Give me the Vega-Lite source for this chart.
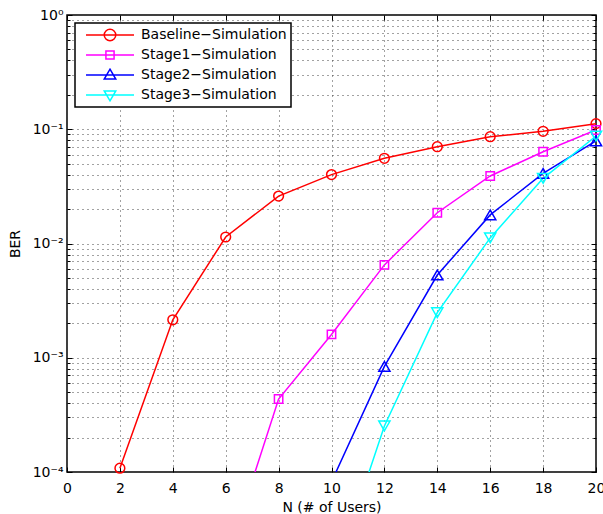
{
  "$schema": "https://vega.github.io/schema/vega-lite/v6.json",
  "width": 529,
  "height": 457,
  "autosize": {"type": "none"},
  "padding": {"left": 67, "top": 15, "right": 7, "bottom": 42},
  "background": "white",
  "config": {
    "view": {"stroke": "#000", "strokeWidth": 1.5},
    "font": "DejaVu Sans",
    "axis": {
      "labelFont": "DejaVu Sans", "labelFontSize": 14, "labelColor": "#000",
      "titleFont": "DejaVu Sans", "titleFontSize": 14, "titleFontWeight": "normal", "titleColor": "#000",
      "domain": false, "tickColor": "#000", "tickWidth": 1,
      "gridColor": "#444", "gridDash": [1, 4], "gridWidth": 1, "gridOpacity": 1
    },
    "point": {"filled": false, "strokeWidth": 1.5, "opacity": 1}
  },
  "data": {
    "values": [
      {"n": 2, "ber": 0.000108, "series": "Baseline−Simulation"},
      {"n": 4, "ber": 0.00215, "series": "Baseline−Simulation"},
      {"n": 6, "ber": 0.0114, "series": "Baseline−Simulation"},
      {"n": 8, "ber": 0.026, "series": "Baseline−Simulation"},
      {"n": 10, "ber": 0.0401, "series": "Baseline−Simulation"},
      {"n": 12, "ber": 0.0557, "series": "Baseline−Simulation"},
      {"n": 14, "ber": 0.0703, "series": "Baseline−Simulation"},
      {"n": 16, "ber": 0.086, "series": "Baseline−Simulation"},
      {"n": 18, "ber": 0.096, "series": "Baseline−Simulation"},
      {"n": 20, "ber": 0.112, "series": "Baseline−Simulation"},
      {"n": 6, "ber": 0.000016, "series": "Stage1−Simulation"},
      {"n": 8, "ber": 0.000435, "series": "Stage1−Simulation"},
      {"n": 10, "ber": 0.0016, "series": "Stage1−Simulation"},
      {"n": 12, "ber": 0.0065, "series": "Stage1−Simulation"},
      {"n": 14, "ber": 0.0186, "series": "Stage1−Simulation"},
      {"n": 16, "ber": 0.039, "series": "Stage1−Simulation"},
      {"n": 18, "ber": 0.0636, "series": "Stage1−Simulation"},
      {"n": 20, "ber": 0.0985, "series": "Stage1−Simulation"},
      {"n": 10, "ber": 0.000082, "series": "Stage2−Simulation"},
      {"n": 12, "ber": 0.00084, "series": "Stage2−Simulation"},
      {"n": 14, "ber": 0.0053, "series": "Stage2−Simulation"},
      {"n": 16, "ber": 0.0178, "series": "Stage2−Simulation"},
      {"n": 18, "ber": 0.0411, "series": "Stage2−Simulation"},
      {"n": 20, "ber": 0.079, "series": "Stage2−Simulation"},
      {"n": 10, "ber": 0.0000103, "series": "Stage3−Simulation"},
      {"n": 12, "ber": 0.000253, "series": "Stage3−Simulation"},
      {"n": 14, "ber": 0.00248, "series": "Stage3−Simulation"},
      {"n": 16, "ber": 0.0112, "series": "Stage3−Simulation"},
      {"n": 18, "ber": 0.0372, "series": "Stage3−Simulation"},
      {"n": 20, "ber": 0.0873, "series": "Stage3−Simulation"}
    ]
  },
  "layer": [
    {
      "mark": {"type": "line", "clip": true, "strokeWidth": 1.5},
      "encoding": {
        "x": {
          "field": "n", "type": "quantitative",
          "scale": {"domain": [0, 20], "nice": false, "zero": false},
          "axis": {
            "orient": "bottom", "values": [0, 2, 4, 6, 8, 10, 12, 14, 16, 18, 20],
            "tickSize": -5, "labelPadding": 14, "grid": true, "labelFlush": false, "labelOverlap": false,
            "title": "N (# of Users)", "titleBaseline": "alphabetic", "titleY": 39
          }
        },
        "y": {
          "field": "ber", "type": "quantitative",
          "scale": {"type": "log", "domain": [0.0001, 1], "nice": false},
          "axis": {
            "orient": "left", "values": [0.0001, 0.001, 0.01, 0.1, 1],
            "labelExpr": "datum.value > 0.5 ? '10⁰' : datum.value > 0.05 ? '10⁻¹' : datum.value > 0.005 ? '10⁻²' : datum.value > 0.0005 ? '10⁻³' : '10⁻⁴'",
            "tickSize": -5, "labelPadding": 9, "grid": false, "labelFlush": false, "labelOverlap": false,
            "title": "BER", "titleBaseline": "alphabetic", "titleX": -48, "titleY": 228.5
          }
        },
        "color": {
          "field": "series", "type": "nominal",
          "scale": {
            "domain": ["Baseline−Simulation", "Stage1−Simulation", "Stage2−Simulation", "Stage3−Simulation"],
            "range": ["#ff0000", "#ff00ff", "#0000ff", "#00ffff"]
          },
          "legend": {
            "title": null, "orient": "top-left", "offset": 8, "padding": 4,
            "strokeColor": "#000", "fillColor": "#fff",
            "symbolSize": 2304, "symbolStrokeWidth": 1.5, "clipHeight": 16, "rowPadding": 4,
            "labelFont": "DejaVu Sans", "labelFontSize": 14, "labelColor": "#000",
            "labelOffset": 6, "symbolOffset": 6, "labelLimit": 400,
            "encode": {
              "symbols": {
                "update": {
                  "shape": {"signal": "datum.value === 'Baseline−Simulation' ? 'M-1,0H1M0.24,0A0.24,0.24,0,1,1,-0.24,0A0.24,0.24,0,1,1,0.24,0Z' : datum.value === 'Stage1−Simulation' ? 'M-1,0H1M-0.17,-0.17H0.17V0.17H-0.17Z' : datum.value === 'Stage2−Simulation' ? 'M-1,0H1M0,-0.24L0.24,0.17L-0.24,0.17Z' : 'M-1,0H1M0,0.24L0.24,-0.17L-0.24,-0.17Z'"},
                  "fill": {"value": "transparent"},
                  "strokeWidth": {"value": 1.5}
                }
              },
              "legend": {"update": {"strokeWidth": {"value": 1.5}}}
            }
          }
        }
      }
    },
    {
      "transform": [{"filter": "datum.series === 'Baseline−Simulation' && datum.ber >= 0.0001"}],
      "mark": {"type": "point", "shape": "circle", "size": 95},
      "encoding": {
        "x": {
          "field": "n", "type": "quantitative",
          "axis": {"orient": "top", "values": [0, 2, 4, 6, 8, 10, 12, 14, 16, 18, 20], "tickSize": -5, "labels": false, "grid": false, "title": null}
        },
        "y": {
          "field": "ber", "type": "quantitative",
          "axis": {"orient": "right", "values": [0.0001, 0.001, 0.01, 0.1, 1], "tickSize": -5, "labels": false, "grid": false, "title": null}
        },
        "color": {"field": "series", "type": "nominal", "legend": null}
      }
    },
    {
      "transform": [{"filter": "datum.series === 'Stage1−Simulation' && datum.ber >= 0.0001"}],
      "mark": {"type": "point", "shape": "square", "size": 70},
      "encoding": {
        "x": {"field": "n", "type": "quantitative", "axis": null},
        "y": {
          "field": "ber", "type": "quantitative",
          "axis": {
            "orient": "left",
            "values": [0.0001, 0.0002, 0.0003, 0.0004, 0.0005, 0.0006, 0.0007, 0.0008, 0.0009, 0.001, 0.002, 0.003, 0.004, 0.005, 0.006, 0.007, 0.008, 0.009, 0.01, 0.02, 0.03, 0.04, 0.05, 0.06, 0.07, 0.08, 0.09, 0.1, 0.2, 0.3, 0.4, 0.5, 0.6, 0.7, 0.8, 0.9, 1],
            "tickSize": -3, "labels": false, "grid": true, "title": null
          }
        },
        "color": {"field": "series", "type": "nominal", "legend": null}
      }
    },
    {
      "transform": [{"filter": "datum.series === 'Stage2−Simulation' && datum.ber >= 0.0001"}],
      "mark": {"type": "point", "shape": "triangle-up", "size": 125},
      "encoding": {
        "x": {"field": "n", "type": "quantitative", "axis": null},
        "y": {
          "field": "ber", "type": "quantitative",
          "axis": {
            "orient": "right",
            "values": [0.0002, 0.0003, 0.0004, 0.0005, 0.0006, 0.0007, 0.0008, 0.0009, 0.002, 0.003, 0.004, 0.005, 0.006, 0.007, 0.008, 0.009, 0.02, 0.03, 0.04, 0.05, 0.06, 0.07, 0.08, 0.09, 0.2, 0.3, 0.4, 0.5, 0.6, 0.7, 0.8, 0.9],
            "tickSize": -3, "labels": false, "grid": false, "title": null
          }
        },
        "color": {"field": "series", "type": "nominal", "legend": null}
      }
    },
    {
      "transform": [{"filter": "datum.series === 'Stage3−Simulation' && datum.ber >= 0.0001"}],
      "mark": {"type": "point", "shape": "triangle-down", "size": 125},
      "encoding": {
        "x": {"field": "n", "type": "quantitative", "axis": null},
        "y": {"field": "ber", "type": "quantitative", "axis": null},
        "color": {"field": "series", "type": "nominal", "legend": null}
      }
    }
  ],
  "resolve": {"axis": {"x": "independent", "y": "independent"}}
}
